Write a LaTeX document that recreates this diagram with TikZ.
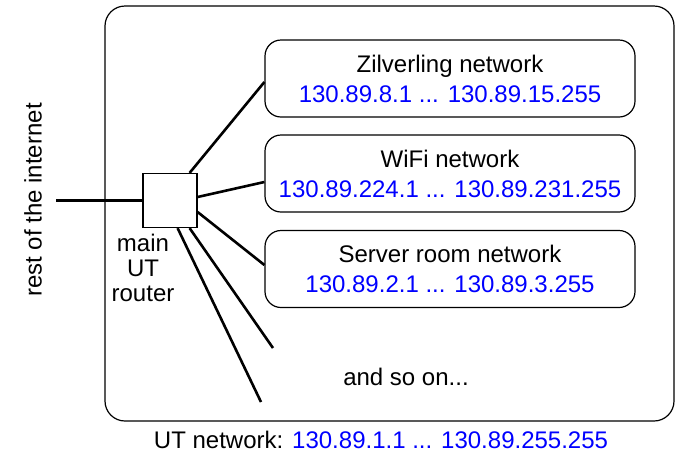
\documentclass[tikz,border=0pt]{standalone}
\usepackage{fontspec}
\setmainfont{Liberation Sans}
\usetikzlibrary{calc}
\definecolor{ipblue}{RGB}{0,0,255}
\begin{document}
\begin{tikzpicture}[x=0.5pt,y=-0.5pt,
  wire/.style={line width=1.3pt},
  frame/.style={draw, line width=0.6pt, rounded corners=10pt, inner sep=0pt},
  subnet/.style={draw, line width=0.6pt, rounded corners=8pt,
    minimum width=185pt, minimum height=38.5pt, align=center, inner sep=0pt,
    font=\fontsize{12}{15}\selectfont},
  routerbox/.style={draw, line width=0.6pt, minimum size=27pt, inner sep=0pt},
  label/.style={font=\fontsize{12}{12.5}\selectfont, inner sep=0pt, align=center},
  ip/.style={text=ipblue}]
\useasboundingbox (0,0) rectangle (675,457);

% the UT network as a whole
\node[frame, minimum width=284.5pt, minimum height=207.5pt] (utnet) at (389.5,213.5) {};

% main router
\node[routerbox] (router) at (170,200.5) {};
\node[label] (routerlbl) at (143,268) {main\\UT\\router};

% outside world
\node[label, rotate=90] (internet) at (33,200) {rest of the internet};
\coordinate (outside) at (56,200.5);
\draw[wire] (outside) -- (router.west);

% subnetworks
\node[subnet] (zil) at (450,78.5) {Zilverling network\\\textcolor{ipblue}{130.89.8.1 ... 130.89.15.255}};
\node[subnet] (wifi) at (450,173.5) {WiFi network\\\textcolor{ipblue}{130.89.224.1 ... 130.89.231.255}};
\node[subnet] (server) at (450,269) {Server room network\\\textcolor{ipblue}{130.89.2.1 ... 130.89.3.255}};

% open-ended links to further subnets
\coordinate (more1) at (273,348);
\coordinate (more2) at (261,402);

\draw[wire] ($(router.north east)+(-8,0)$) -- ($(zil.west)+(0,3.5)$);
\draw[wire] ($(router.east)+(0,-3.5)$) -- ($(wifi.west)+(0,8.5)$);
\draw[wire] ($(router.east)+(0,11.5)$) -- ($(server.west)+(0,-4)$);
\draw[wire] ($(router.south east)+(-8,0)$) -- (more1);
\draw[wire] ($(router.south east)+(-20,0)$) -- (more2);

\node[label] (etc) at (406,377) {and so on...};

% caption of the whole network
\node[label] (caption) at (381,440) {UT network: \textcolor{ipblue}{130.89.1.1 ... 130.89.255.255}};
\end{tikzpicture}
\end{document}
